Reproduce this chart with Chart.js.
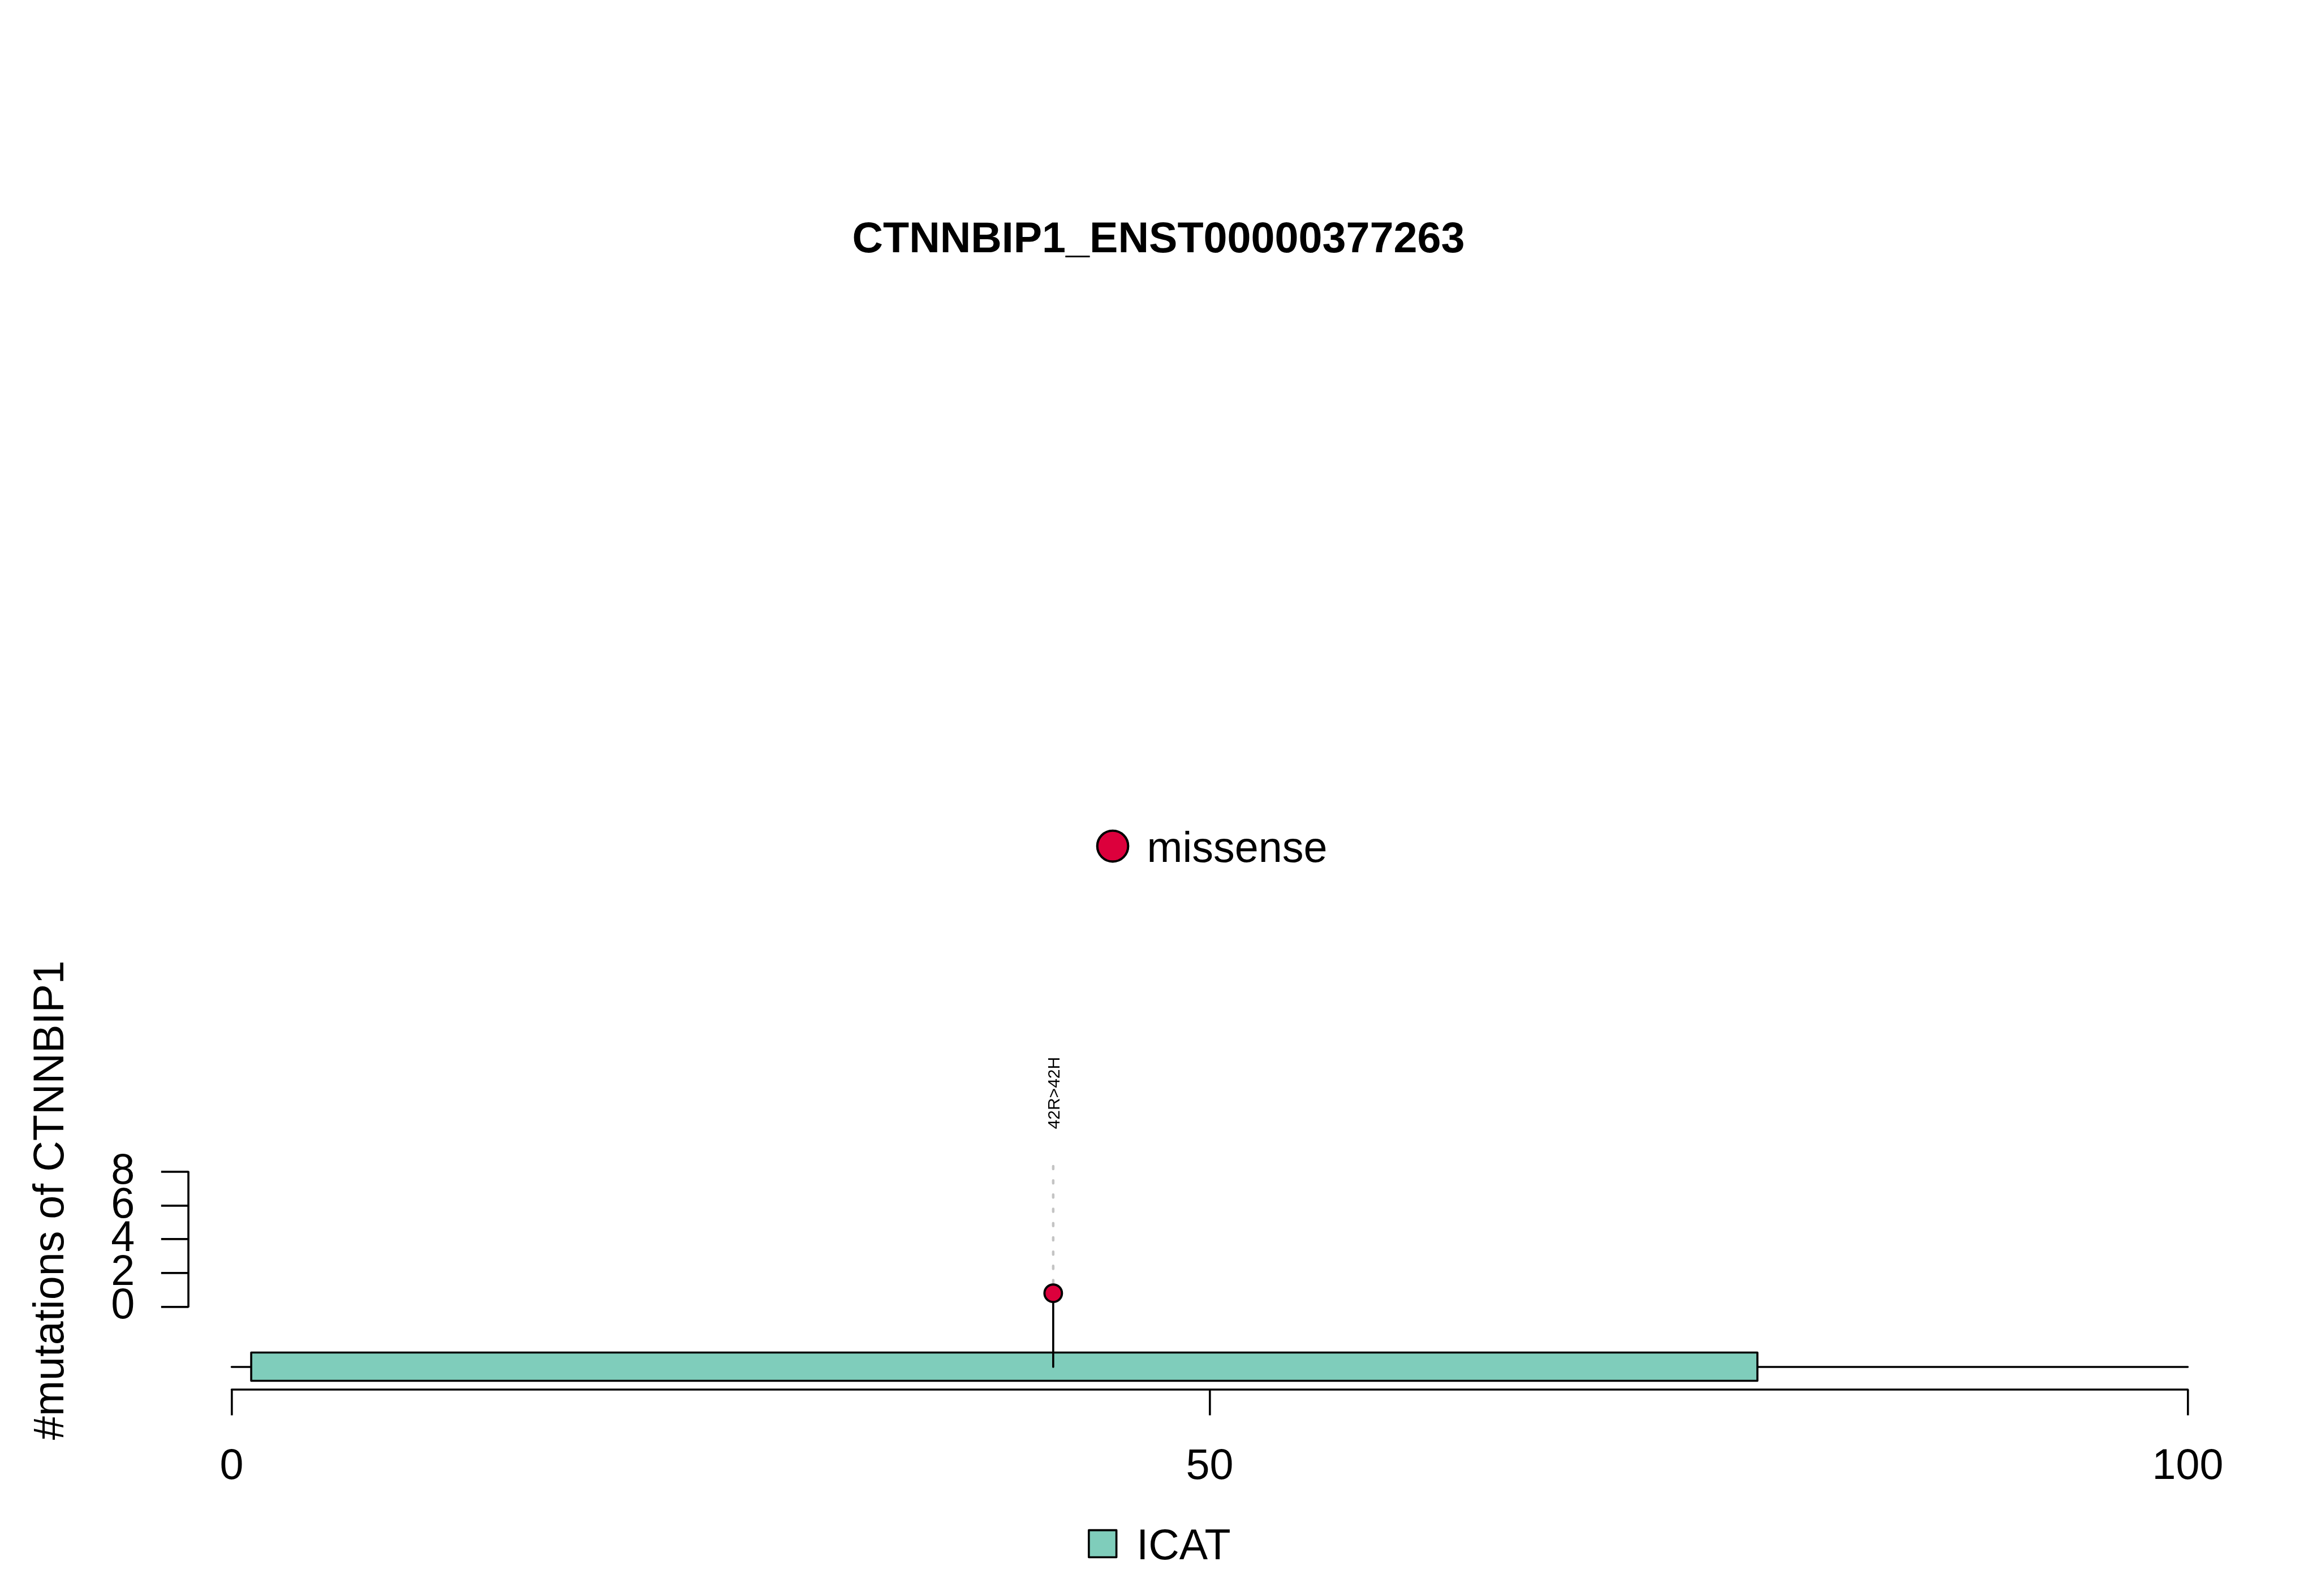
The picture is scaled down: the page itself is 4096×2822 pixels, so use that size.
<!DOCTYPE html>
<html>
<head>
<meta charset="utf-8">
<style>
html,body{margin:0;padding:0;background:#ffffff;}
canvas{display:block;}
</style>
<script src="https://cdn.jsdelivr.net/npm/chart.js@4.4.1/dist/chart.umd.min.js"></script>
</head>
<body>
<canvas id="c" width="4096" height="2822" style="width:4096px;height:2822px"></canvas>
<script>
// ---------------- data ----------------
const chartTitle = 'CTNNBIP1_ENST00000377263';
const yAxisTitle = '#mutations of CTNNBIP1';
const mutationPositions = [42];
const mutationCounts = [0.8];
const mutationLabels = ['42R>42H'];
const mutationTypes = ['missense'];
const backboneStart = 0;
const backboneEnd = 100;
const domainNames = ['ICAT'];
const domainStarts = [1];
const domainEnds = [78];
const xTickValues = [0, 50, 100];
const yTickValues = [0, 2, 4, 6, 8];

// ---------------- style / layout ----------------
const S = 0.91;
const FONT = '"Liberation Sans", Arial, Helvetica, sans-serif';
const FS = 83 * S;              // main text size
const LABEL_FS = 33 * S;        // mutation label size
const LW = 4 * S;               // line width
const TYPE_COLORS = { missense: '#DC003C' };
const DOMAIN_COLORS = ['#7FCDBB'];
const DROP_COLOR = '#C4C4C4';
const SIDE_PAD = 40;
// vertical layout expressed in y-scale units
const Y_RANGE = { min: -4.916, max: 17.558 };
const TRACK = { top: -2.718, mid: -3.573, bottom: -4.397 };
const DROP_TOP = 8.34;
const X_RANGE = { min: -2.2105, max: 105.451 };
const LABEL_GAP = 65.5;         // px between dotted line top and label start

Chart.defaults.color = '#000';
Chart.defaults.font.family = FONT;

const lolliPlugin = {
  id: 'lolliExtras',
  beforeDatasetsDraw(chart) {
    const {ctx, chartArea, scales: {x, y}} = chart;
    ctx.save();
    ctx.strokeStyle = '#000';
    ctx.lineWidth = LW;
    ctx.lineCap = 'round';
    ctx.lineJoin = 'round';
    // y axis line (only over tick range)
    ctx.beginPath();
    ctx.moveTo(chartArea.left, y.getPixelForValue(yTickValues[0]));
    ctx.lineTo(chartArea.left, y.getPixelForValue(yTickValues[yTickValues.length - 1]));
    ctx.stroke();
    // x axis line (only over tick range)
    ctx.beginPath();
    ctx.moveTo(x.getPixelForValue(xTickValues[0]), chartArea.bottom);
    ctx.lineTo(x.getPixelForValue(xTickValues[xTickValues.length - 1]), chartArea.bottom);
    ctx.stroke();
    // protein backbone
    const yMid = y.getPixelForValue(TRACK.mid);
    ctx.beginPath();
    ctx.moveTo(x.getPixelForValue(backboneStart), yMid);
    ctx.lineTo(x.getPixelForValue(backboneEnd), yMid);
    ctx.stroke();
    // domains
    domainStarts.forEach((s, i) => {
      const x0 = x.getPixelForValue(s), x1 = x.getPixelForValue(domainEnds[i]);
      const y0 = y.getPixelForValue(TRACK.top), y1 = y.getPixelForValue(TRACK.bottom);
      ctx.fillStyle = DOMAIN_COLORS[i % DOMAIN_COLORS.length];
      ctx.beginPath();
      ctx.rect(x0, y0, x1 - x0, y1 - y0);
      ctx.fill();
      ctx.stroke();
    });
    ctx.restore();
  },
  afterDatasetsDraw(chart) {
    const {ctx, scales: {x, y}} = chart;
    ctx.save();
    // mutation labels (rotated)
    ctx.fillStyle = '#000';
    ctx.font = LABEL_FS + 'px ' + FONT;
    ctx.textAlign = 'left';
    ctx.textBaseline = 'alphabetic';
    mutationPositions.forEach((p, i) => {
      const px = x.getPixelForValue(p);
      const py = y.getPixelForValue(DROP_TOP) - LABEL_GAP;
      ctx.save();
      ctx.translate(px, py);
      ctx.rotate(-Math.PI / 2);
      ctx.fillText(mutationLabels[i], 0, 0.716 * LABEL_FS / 2);
      ctx.restore();
    });
    // legend: mutation type (top)
    ctx.lineWidth = 4.5 * S;
    ctx.strokeStyle = '#000';
    const types = [...new Set(mutationTypes)];
    types.forEach((t) => {
      ctx.beginPath();
      ctx.arc(2161.6 * S, 1644 * S, 30 * S, 0, Math.PI * 2);
      ctx.fillStyle = TYPE_COLORS[t];
      ctx.fill();
      ctx.stroke();
      ctx.fillStyle = '#000';
      ctx.font = FS + 'px ' + FONT;
      ctx.fillText(t, 2228 * S, 1675 * S);
    });
    // legend: domains (bottom)
    domainNames.forEach((d, i) => {
      ctx.fillStyle = DOMAIN_COLORS[i % DOMAIN_COLORS.length];
      ctx.lineWidth = LW;
      ctx.lineJoin = 'round';
      ctx.beginPath();
      ctx.rect(2115.2 * S, 2973.2 * S, 53.6 * S, 52.6 * S);
      ctx.fill();
      ctx.stroke();
      ctx.fillStyle = '#000';
      ctx.font = FS + 'px ' + FONT;
      ctx.fillText(d, 2208 * S, 3030 * S);
    });
    ctx.restore();
  }
};

const stemData = [];
const dropData = [];
mutationPositions.forEach((p, i) => {
  if (i > 0) { stemData.push({x: null, y: null}); dropData.push({x: null, y: null}); }
  stemData.push({x: p, y: TRACK.mid}, {x: p, y: mutationCounts[i]});
  dropData.push({x: p, y: DROP_TOP}, {x: p, y: mutationCounts[i]});
});

new Chart(document.getElementById('c'), {
  type: 'scatter',
  data: {
    datasets: [
      {
        type: 'scatter',
        label: 'mutations',
        data: mutationPositions.map((p, i) => ({x: p, y: mutationCounts[i]})),
        backgroundColor: mutationTypes.map(t => TYPE_COLORS[t]),
        borderColor: '#000',
        borderWidth: 3.9,
        pointRadius: 17 * S,
        pointHoverRadius: 17 * S,
        order: 0
      },
      {
        type: 'line',
        label: 'stems',
        data: stemData,
        borderColor: '#000',
        borderWidth: LW,
        borderCapStyle: 'round',
        pointRadius: 0,
        fill: false,
        spanGaps: false,
        order: 1
      },
      {
        type: 'line',
        label: 'drops',
        data: dropData,
        borderColor: DROP_COLOR,
        borderWidth: 5 * S,
        borderCapStyle: 'round',
        borderDash: [5.5 * S, 22.2 * S],
        pointRadius: 0,
        fill: false,
        spanGaps: false,
        order: 2
      }
    ]
  },
  options: {
    responsive: false,
    animation: false,
    devicePixelRatio: 1,
    layout: { padding: { left: SIDE_PAD, right: SIDE_PAD, top: 0, bottom: 0 } },
    events: [],
    plugins: {
      legend: { display: false },
      tooltip: { enabled: false },
      title: {
        display: true,
        text: chartTitle,
        color: '#000',
        font: { family: FONT, size: FS, weight: 'bold', lineHeight: 1.2 },
        padding: { top: 379.9, bottom: 1316.7 }
      }
    },
    scales: {
      x: {
        type: 'linear',
        position: 'bottom',
        min: X_RANGE.min,
        max: X_RANGE.max,
        afterBuildTicks: s => { s.ticks = xTickValues.map(v => ({value: v})); },
        afterFit: s => { s.height = 2822 - 2700 * S; },
        border: { display: false },
        grid: { display: true, drawOnChartArea: false, drawTicks: true, tickLength: 50 * S, color: '#000', lineWidth: LW },
        ticks: { autoSkip: false, maxRotation: 0, padding: 46.8, color: '#000', font: { family: FONT, size: FS }, callback: v => String(v) }
      },
      y: {
        type: 'linear',
        position: 'left',
        min: Y_RANGE.min,
        max: Y_RANGE.max,
        afterBuildTicks: s => { s.ticks = yTickValues.map(v => ({value: v})); },
        afterFit: s => { s.width = 366 * S - SIDE_PAD; },
        border: { display: false },
        grid: { display: true, drawOnChartArea: false, drawTicks: true, tickLength: 53 * S, color: '#000', lineWidth: LW },
        ticks: { autoSkip: false, padding: 46.5, color: '#000', font: { family: FONT, size: FS }, callback: v => String(v) },
        title: { display: true, text: yAxisTitle, color: '#000', font: { family: FONT, size: FS, lineHeight: 1.2 }, padding: { top: 91.2 - SIDE_PAD - FS * 0.6, bottom: 0 } }
      }
    }
  },
  plugins: [lolliPlugin]
});
</script>
</body>
</html>
